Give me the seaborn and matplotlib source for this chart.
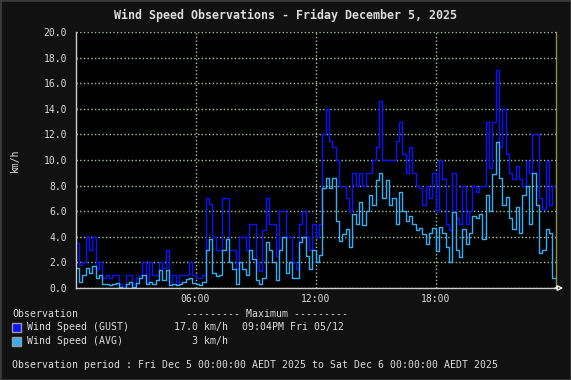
import numpy as np
import pandas as pd
import matplotlib
matplotlib.use('Agg')
import matplotlib.pyplot as plt
import seaborn as sns
from matplotlib.patches import Rectangle

# 10 minute readings, 00:00 -> 23:50 (km/h)
gust = [3.5, 1.8, 2.0, 4.0, 3.0, 4.0,
        1.5, 2.0, 0.8, 1.0, 0.8, 1.0,
        1.0, 0.3, 0.0, 1.0, 1.0, 0.3,
        0.8, 1.0, 2.0, 0.5, 2.0, 1.0,
        1.0, 2.0, 1.6, 3.0, 0.5, 1.0,
        0.5, 1.0, 1.0, 1.0, 2.0, 1.0,
        0.8, 0.8, 1.0, 7.0, 6.6, 4.0,
        3.0, 3.0, 7.0, 7.0, 3.0, 3.0,
        1.5, 4.0, 4.0, 3.0, 5.0, 5.0,
        2.0, 1.3, 4.5, 7.0, 5.0, 5.0,
        2.5, 6.0, 6.0, 4.0, 4.0, 2.0,
        1.5, 5.0, 6.0, 4.0, 3.0, 5.0,
        4.0, 5.0, 12.0, 14.0, 11.5, 11.0,
        10.0, 8.0, 8.0, 7.0, 6.0, 9.0,
        8.0, 9.0, 8.0, 9.0, 9.0, 10.0,
        11.0, 14.6, 10.0, 10.0, 10.0, 10.0,
        11.5, 13.0, 10.5, 9.0, 11.0, 9.0,
        8.0, 7.8, 6.5, 8.0, 7.0, 9.0,
        6.0, 10.0, 8.5, 5.0, 4.5, 9.0,
        5.5, 5.0, 8.0, 5.0, 6.0, 8.0,
        7.5, 8.0, 8.0, 13.0, 9.4, 13.0,
        17.0, 11.0, 14.0, 10.5, 9.0, 8.5,
        9.5, 8.5, 8.0, 9.9, 9.0, 12.0,
        12.0, 7.0, 6.2, 9.9, 6.5, 8.0]

avg = [1.6, 0.5, 1.0, 1.6, 1.2, 1.7,
       0.8, 1.0, 0.3, 0.3, 0.2, 0.3,
       0.4, 0.1, 0.0, 0.3, 0.5, 0.1,
       0.4, 0.8, 1.0, 0.3, 0.5, 0.3,
       0.6, 1.4, 0.6, 1.4, 0.2, 0.3,
       0.2, 0.3, 0.5, 0.7, 0.8, 0.4,
       0.3, 0.2, 0.5, 3.0, 3.8, 1.2,
       0.9, 1.0, 3.0, 3.8, 2.0, 1.5,
       0.3, 2.0, 1.5, 1.0, 3.0, 2.3,
       0.6, 0.3, 0.8, 3.6, 3.0, 2.0,
       0.6, 3.0, 4.0, 1.2, 2.0, 0.8,
       0.8, 3.6, 4.0, 2.5, 1.5, 3.0,
       2.0, 2.6, 7.8, 8.6, 7.8, 8.6,
       5.2, 3.7, 4.2, 4.6, 3.2, 5.8,
       5.0, 6.7, 4.9, 6.0, 7.3, 6.5,
       8.4, 9.0, 7.0, 8.4, 6.5, 7.0,
       5.0, 7.5, 6.0, 5.2, 5.6, 5.0,
       4.5, 4.7, 4.2, 3.4, 4.3, 4.7,
       2.9, 4.8, 4.3, 3.2, 2.0, 5.9,
       3.0, 2.4, 4.6, 3.4, 4.3, 5.6,
       5.5, 5.8, 3.8, 7.3, 6.0, 8.9,
       11.4, 8.6, 6.5, 7.1, 5.5, 4.6,
       6.3, 4.3, 7.3, 8.0, 5.0, 9.0,
       6.5, 2.7, 3.0, 4.6, 4.3, 0.8]

xticks = [6, 12, 18]
xtick_labels = ['06:00', '12:00', '18:00']

gust_col = '#0a12ff'
avg_col = '#35aef5'
grid_col = '#a9c99a'
txt_col = '#dcdcdc'

# step ends at midnight, so repeat the last reading there
hours = np.append(np.arange(len(gust)) / 6, 24)
df = pd.concat([
    pd.DataFrame({'hour': hours, 'speed': gust + gust[-1:], 'obs': 'GUST'}),
    pd.DataFrame({'hour': hours, 'speed': avg + avg[-1:], 'obs': 'AVG'}),
])

sns.set_style('dark')
plt.rcParams['font.family'] = ['DejaVu Sans Mono']

fig = plt.figure(figsize=(5.71, 3.80), dpi=100, facecolor='#111111')
ax = fig.add_axes([75.5 / 571, 92 / 380, 480 / 571, 256 / 380])
ax.set_facecolor('black')

sns.lineplot(data=df, x='hour', y='speed', hue='obs', hue_order=['GUST', 'AVG'],
             palette=[gust_col, avg_col], drawstyle='steps-post', linewidth=1,
             estimator=None, legend=False, ax=ax)

ax.set_xlim(0, 24)
ax.set_ylim(0, 20)
ax.set_yticks(np.arange(0, 21, 2))
ax.set_yticklabels([f'{v:.1f}' for v in np.arange(0, 21, 2)])
ax.set_xticks(xticks)
ax.set_xticklabels(xtick_labels)
ax.set_xlabel('')
ax.set_ylabel('km/h', color=txt_col, fontsize=7, labelpad=17)
ax.grid(True, color=grid_col, linestyle=':', linewidth=1)
ax.tick_params(axis='y', colors=grid_col, labelcolor=txt_col, labelsize=7, length=3, pad=3)
ax.tick_params(axis='x', colors='#cccccc', labelcolor=txt_col, labelsize=7, length=3,
               direction='in', pad=4)

for s in ['left', 'bottom']:
    ax.spines[s].set_visible(True)
    ax.spines[s].set_color('#cccccc')
    ax.spines[s].set_linewidth(1)
ax.spines['top'].set_visible(False)
ax.spines['right'].set_visible(True)
ax.spines['right'].set_color('#8f8f45')
ax.spines['right'].set_linewidth(1)

ax.annotate('', xy=(1.016, 0), xytext=(0.999, 0), xycoords='axes fraction',
            arrowprops=dict(arrowstyle='-|>', color='white', fc='#111111', lw=1,
                            mutation_scale=8, shrinkA=0, shrinkB=0))

fig.text(0.5, 1 - 15 / 380, 'Wind Speed Observations - Friday December 5, 2025',
         ha='center', va='center', color=txt_col, fontsize=8.4, fontweight='bold')


def px(x, y):
    return x / 571, 1 - y / 380


kw = dict(color=txt_col, fontsize=7.1, va='center')
fig.text(*px(12, 314), 'Observation', **kw)
fig.text(*px(186, 314), '--------- Maximum ---------', **kw)
fig.text(*px(27, 327), 'Wind Speed (GUST)', **kw)
fig.text(*px(228, 327), '17.0 km/h', ha='right', **kw)
fig.text(*px(242, 327), '09:04PM Fri 05/12', **kw)
fig.text(*px(27, 341), 'Wind Speed (AVG)', **kw)
fig.text(*px(228, 341), '3 km/h', ha='right', **kw)
fig.text(*px(12, 365), 'Observation period : Fri Dec 5 00:00:00 AEDT 2025 to '
         'Sat Dec 6 00:00:00 AEDT 2025', **kw)

for y, c in [(327, gust_col), (341, avg_col)]:
    x0, y0 = px(12, y + 4.5)
    fig.add_artist(Rectangle((x0, y0), 8.5 / 571, 9 / 380, transform=fig.transFigure,
                             facecolor=c, edgecolor='#9a9a9a', lw=1))

fig.add_artist(Rectangle((0, 0), 1, 1, transform=fig.transFigure, fill=False,
                         edgecolor='#3a3a3a', lw=2))

fig.savefig('out.png', dpi=100, facecolor=fig.get_facecolor())
